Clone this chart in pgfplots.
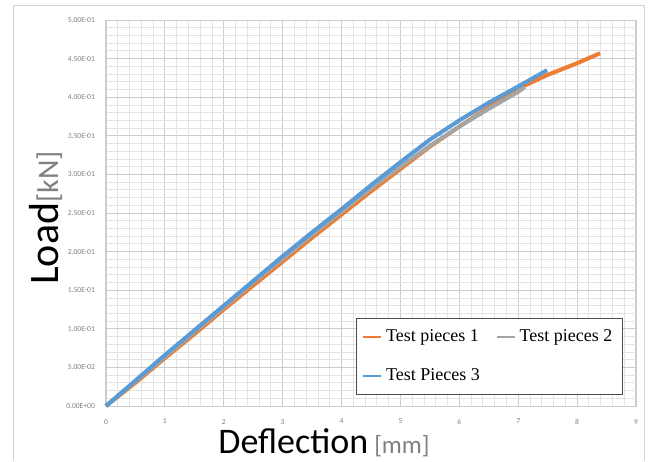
\documentclass[border=0pt]{standalone}
\usepackage{pgfplots}
\pgfplotsset{compat=1.18}
\usepackage{fontspec}
\setmainfont{Carlito}
\newfontfamily\tnr{Liberation Serif}
\definecolor{c1}{HTML}{ED7D31}
\definecolor{c2}{HTML}{A5A5A5}
\definecolor{c3}{HTML}{5B9BD5}
\definecolor{tickgray}{HTML}{808080}
\begin{document}
\begin{tikzpicture}
\useasboundingbox (-53pt,-27.5pt) rectangle (273.5pt,203pt);
\draw[gray!35, line width=0.5pt] (-46pt,-27.5pt) -- (-46pt,200pt) -- (269pt,200pt) -- (269pt,-27.5pt);
\begin{axis}[
  scale only axis,
  width=265pt, height=193pt,
  xmin=0, xmax=9, ymin=0, ymax=0.5,
  xtick={0,1,...,9},
  xticklabels={0,1,2,3,4,5,6,7,8,9},
  ytick={0,0.05,...,0.5},
  yticklabels={0.00E+00,5.00E-02,1.00E-01,1.50E-01,2.00E-01,2.50E-01,3.00E-01,3.50E-01,4.00E-01,4.50E-01,5.00E-01},
  minor x tick num=4,
  minor y tick num=4,
  grid=both,
  major grid style={gray!40, line width=0.5pt},
  minor grid style={gray!22, line width=0.4pt},
  axis line style={gray!40},
  major tick length=0pt, minor tick length=0pt,
  tick label style={font=\fontsize{3.8}{4.5}\selectfont, text=tickgray},
  xticklabel style={yshift=-3pt},
  yticklabel style={xshift=-2pt},
  legend columns=2,
  legend cell align=left,
  legend style={at={(258.5/265,5.5/193)}, anchor=south east,
    draw=black!70, line width=0.6pt, fill=white,
    font=\tnr\fontsize{9}{10.5}\selectfont,
    inner xsep=3pt, inner ysep=3.5pt,
    /tikz/every even column/.append style={column sep=6pt},
    row sep=8pt},
  legend image code/.code={\draw[#1, line width=0.9pt] (0pt,0pt) -- (9pt,0pt);},
  clip=false,
]
\addplot[c1, line width=2pt] coordinates {
(0,0) (0.5,0.030) (1,0.062) (1.5,0.093) (2,0.125) (2.5,0.156) (3,0.187) (3.5,0.218) (4,0.248) (4.5,0.278) (5,0.307) (5.5,0.336) (6,0.362) (6.5,0.387) (7,0.411) (7.5,0.429) (8,0.444) (8.39,0.457)
};
\addlegendentry{Test pieces 1}
\addplot[c2, line width=2pt] coordinates {
(0,0) (0.5,0.032) (1,0.064) (1.5,0.096) (2,0.128) (2.5,0.160) (3,0.191) (3.5,0.222) (4,0.252) (4.5,0.282) (5,0.310) (5.5,0.337) (6,0.362) (6.5,0.385) (7,0.407) (7.11,0.413)
};
\addlegendentry{Test pieces 2}
\addplot[c3, line width=2pt] coordinates {
(0,0) (0.5,0.033) (1,0.066) (1.5,0.098) (2,0.130) (2.5,0.162) (3,0.194) (3.5,0.225) (4,0.255) (4.5,0.286) (5,0.316) (5.5,0.345) (6,0.370) (6.5,0.393) (7,0.414) (7.49,0.435)
};
\addlegendentry{Test Pieces 3}
\end{axis}
\node[anchor=base, inner sep=0pt] at (109pt,-23.5pt) {\fontsize{18}{21}\selectfont Deflection\,{\color{gray}\fontsize{12.5}{15}\selectfont[mm]}};
\node[anchor=base, rotate=90, inner sep=0pt] at (-24pt,94pt) {\fontsize{21}{24}\selectfont Load{\color{gray}\fontsize{15}{17}\selectfont[kN]}};
\end{tikzpicture}
\end{document}
